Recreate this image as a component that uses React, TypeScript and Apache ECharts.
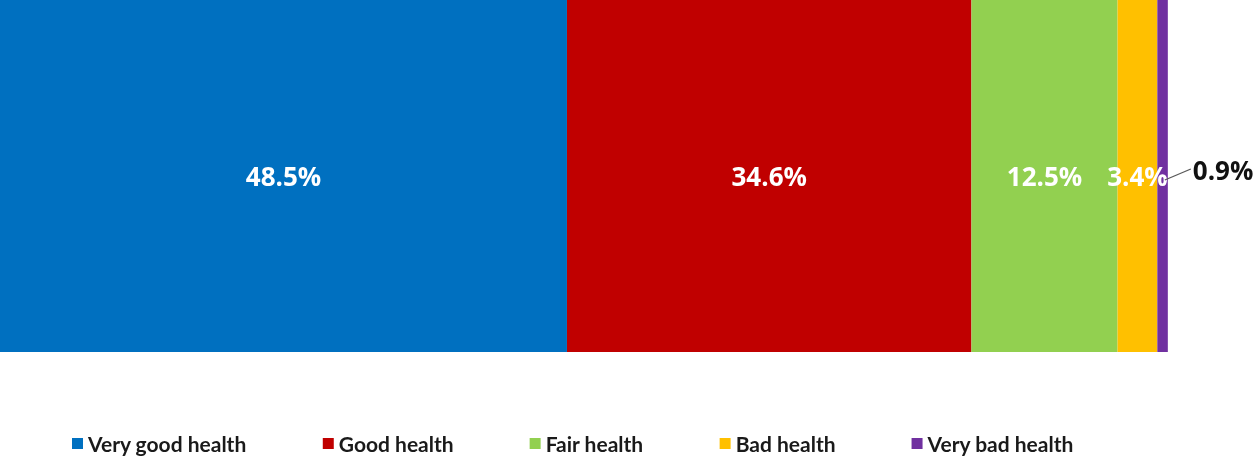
import React, { useEffect, useRef } from "react";
import * as echarts from "echarts";

const categories = ["Health"];
const seriesNames = ["Very good health", "Good health", "Fair health", "Bad health", "Very bad health"];
const seriesValues = [48.5, 34.6, 12.5, 3.4, 0.9];
const seriesColors = ["#0070C0", "#C00000", "#92D050", "#FFC000", "#7030A0"];

export default function App() {
  const ref = useRef<HTMLDivElement>(null);
  useEffect(() => {
    const chart = echarts.init(ref.current!, undefined, { renderer: "svg" });
    const series = seriesNames.map((name, i) => {
      const last = i === seriesNames.length - 1;
      return {
        name,
        type: "bar",
        stack: "total",
        barWidth: "100%",
        data: [seriesValues[i]],
        itemStyle: { color: seriesColors[i] },
        label: {
          show: true,
          position: last ? "right" : "inside",
          distance: 0,
          formatter: (p: any) => p.value.toFixed(1) + "%",
          color: last ? "#111" : "#fff",
          fontFamily: "Open Sans",
          fontWeight: "bold",
          fontSize: 26,
        },
        labelLayout: last ? { dx: 25, dy: -6 } : undefined,
      };
    });
    chart.setOption({
      animation: false,
      grid: { left: 0, right: 87, top: 0, bottom: 107 },
      xAxis: { type: "value", min: 0, max: 100, show: false },
      yAxis: { type: "category", data: categories, show: false },
      legend: {
        top: 433,
        left: 72,
        padding: 0,
        icon: "rect",
        itemWidth: 11,
        itemHeight: 11,
        itemGap: 76,
        textStyle: {
          fontFamily: "Lato",
          fontWeight: "bold",
          fontSize: 21,
          color: "#1a1a1a",
        },
        data: seriesNames,
      },
      series,
    });
    const total = seriesValues.reduce((a, b) => a + b, 0);
    const end = chart.convertToPixel({ gridIndex: 0 }, [total, categories[0]]) as number[];
    chart.setOption({
      graphic: [
        {
          type: "line",
          shape: { x1: end[0] - 3, y1: end[1] + 4, x2: end[0] + 23, y2: end[1] - 7 },
          style: { stroke: "#595959", lineWidth: 1.3 },
          z: 100,
        },
      ],
    });
    return () => chart.dispose();
  }, []);
  return <div ref={ref} style={{ position: "fixed", left: 0, top: 0, width: 1256, height: 459 }} />;
}
